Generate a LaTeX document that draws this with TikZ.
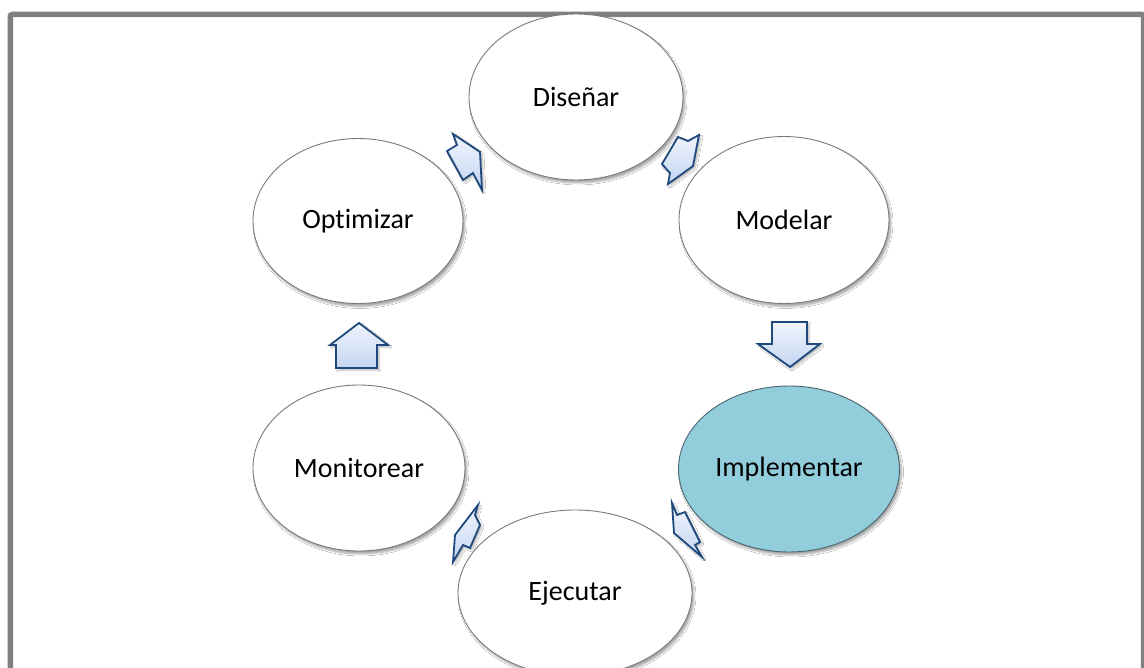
\documentclass[tikz,border=0pt]{standalone}
\usepackage{fontspec}
\setmainfont{Carlito}[Ligatures=NoCommon]
\usetikzlibrary{shapes.geometric,shadows.blur}
\definecolor{framegray}{HTML}{808080}
\definecolor{ringgray}{HTML}{7A7A7A}
\definecolor{arrowblue}{HTML}{1F497D}
\definecolor{arrowtop}{HTML}{F0F4FC}
\definecolor{arrowbot}{HTML}{C4D6F2}
\definecolor{implfill}{HTML}{92CDDC}
\definecolor{impledge}{HTML}{4A6670}
\tikzset{
  stage/.style={ellipse, draw=ringgray, line width=0.9pt, fill=white, inner sep=0pt,
    font=\fontsize{28}{33}\selectfont,
    blur shadow={shadow xshift=2pt, shadow yshift=-3pt, shadow blur steps=6, shadow opacity=35}},
  active/.style={fill=implfill, draw=impledge},
  barrow/.style={draw=arrowblue, line width=1.8pt, line join=miter, top color=arrowtop, bottom color=arrowbot,
    blur shadow={shadow xshift=2pt, shadow yshift=-2pt, shadow blur steps=4, shadow opacity=30}},
  frameline/.style={draw=framegray, line width=5.5pt}
}
\begin{document}
\begin{tikzpicture}[x=1pt,y=-1pt]
\useasboundingbox (0,0) rectangle (1144,668);
\begin{scope}
\clip (0,0) rectangle (1144,668);
\fill[white] (0,0) rectangle (1144,668);
\draw[frameline, rounded corners=2pt] (10.3,700) -- (10.3,14.5) -- (1143.5,14.5) -- (1143.5,700);

\node[stage, minimum width=214pt, minimum height=166pt] (dis) at (576,97) {Diseñar};
\node[stage, minimum width=210pt, minimum height=167pt] (mod) at (784,220) {Modelar};
\node[stage, active, minimum width=221pt, minimum height=166pt] (imp) at (789,469) {Implementar};
\node[stage, minimum width=234pt, minimum height=166pt] (eje) at (575,593) {Ejecutar};
\node[stage, minimum width=212pt, minimum height=166pt] (mon) at (359,468) {Monitorear};
\node[stage, minimum width=210pt, minimum height=165pt] (opt) at (358,221) {Optimizar};

% Optimizar -> Disenar
\draw[barrow] (453,134) -- (480,152) -- (482,190) -- (473,173) -- (463,180) -- (447,151) -- (457,145) -- cycle;
% Disenar -> Modelar
\draw[barrow] (678,137) -- (688,141) -- (699,135) -- (693,166) -- (668,184) -- (670,173) -- (662,164) -- cycle;
% Modelar -> Implementar
\draw[barrow] (772,322) -- (807,322) -- (807,344) -- (820,344) -- (790,367) -- (758,344) -- (772,344) -- cycle;
% Implementar -> Ejecutar
\draw[barrow] (672,503) -- (677,515) -- (685,512) -- (700,542) -- (695,545) -- (702,557) -- (674,533) -- cycle;
% Ejecutar -> Monitorear
\draw[barrow] (478,505) -- (475,515) -- (480,525) -- (470,548) -- (463,545) -- (453,562) -- (455,535) -- cycle;
% Monitorear -> Optimizar
\draw[barrow] (336,368) -- (377,368) -- (377,345) -- (388,345) -- (359,323) -- (330,345) -- (336,345) -- cycle;
\end{scope}
\end{tikzpicture}
\end{document}
